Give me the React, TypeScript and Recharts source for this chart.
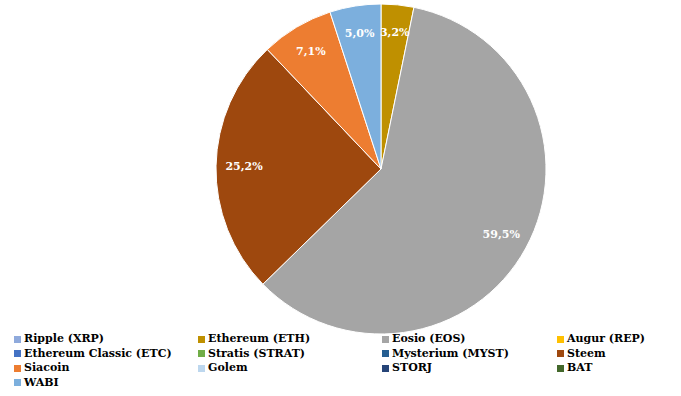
import React from 'react'
import { PieChart, Pie, Cell } from 'recharts'

const coins = [
  'Ripple (XRP)', 'Ethereum (ETH)', 'Eosio (EOS)', 'Augur (REP)',
  'Ethereum Classic (ETC)', 'Stratis (STRAT)', 'Mysterium (MYST)', 'Steem',
  'Siacoin', 'Golem', 'STORJ', 'BAT',
  'WABI',
]

// share of portfolio, percent
const shares = [0, 3.2, 59.5, 0, 0, 0, 0, 25.2, 7.1, 0, 0, 0, 5.0]

const colors = [
  '#8FAADC', '#BF9000', '#A5A5A5', '#FFC000',
  '#4472C4', '#70AD47', '#255E91', '#9E480E',
  '#ED7D31', '#BDD7EE', '#264478', '#43682B',
  '#7CAFDD',
]

const data = coins.map((name, i) => ({ name, value: shares[i] })).filter(d => d.value > 0)
const dataColors = coins.map((_, i) => colors[i]).filter((_, i) => shares[i] > 0)

const RAD = Math.PI / 180
const font = "'DejaVu Serif', 'Liberation Serif', serif"

const renderLabel = (props: any) => {
  const { cx, cy, midAngle, outerRadius, value } = props
  const r = outerRadius * 0.83
  const x = cx + r * Math.cos(-midAngle * RAD)
  const y = cy + r * Math.sin(-midAngle * RAD)
  return (
    <text x={x} y={y} fill="#fff" textAnchor="middle" dominantBaseline="central"
      style={{ fontFamily: font, fontWeight: 'bold', fontSize: 11 }}>
      {value.toFixed(1).replace('.', ',')}%
    </text>
  )
}

const App = () => {
  return (
    <div style={{ position: 'absolute', left: 0, top: 0, width: 681, height: 396, background: '#fff' }}>
      <PieChart width={681} height={396}>
        <Pie data={data} dataKey="value" nameKey="name" cx={376} cy={164} outerRadius={165}
          startAngle={90} endAngle={-270} stroke="#fff" strokeWidth={1}
          label={renderLabel} labelLine={false} isAnimationActive={false}>
          {data.map((d, i) => <Cell key={d.name} fill={dataColors[i]} />)}
        </Pie>
      </PieChart>
      <div style={{ position: 'absolute', left: 14, top: 332, width: 670, display: 'grid',
        gridTemplateColumns: '184px 184px 175px 120px',
        fontFamily: font, fontWeight: 'bold', fontSize: 11, color: '#000', lineHeight: '14.5px' }}>
        {coins.map((name, i) => (
          <div key={name} style={{ display: 'flex', alignItems: 'center', whiteSpace: 'nowrap' }}>
            <span style={{ display: 'inline-block', width: 7, height: 7, background: colors[i], marginRight: 3 }} />
            {name}
          </div>
        ))}
      </div>
    </div>
  )
}

export default App
